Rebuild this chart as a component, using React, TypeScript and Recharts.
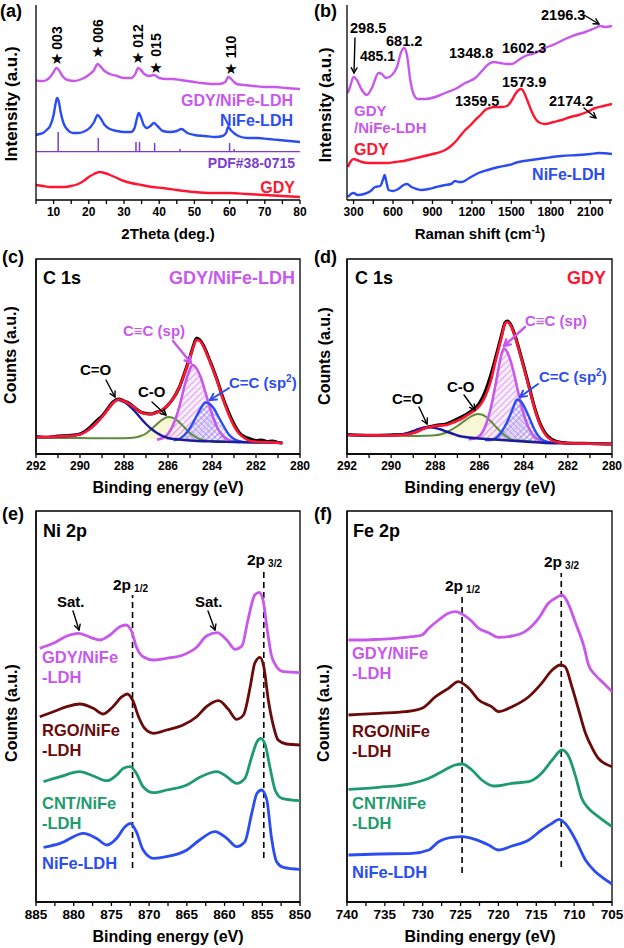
import React from "react";
import { ComposedChart, Line, Area, XAxis, YAxis, ReferenceLine, ReferenceArea } from "recharts";

const FONT = '"Liberation Sans", Arial, Helvetica, sans-serif';
const MAG = "#c858ec";
const BLUE = "#2b4cf0";
const RED = "#ff1530";
const DRED = "#6b0a0a";
const GREEN = "#1e9b6e";
const PURPLE = "#7b3ccf";
const NAVY = "#1b1b9e";
const OLIVE = "#5c8c3c";

// ---- (a) XRD, [2theta, height] ----
const xrdGdyNife = [[5,120],[6,119],[7,119],[8,120],[9,123],[10,128],[10.8,132],[11.5,130],[12.5,124],[14,120],[16,119],[18,121],[20,125],[21.5,130],[22.5,136],[23.2,134],[24.5,129],[26,126],[28,124],[30,122],[32,122],[33.2,126],[34,132],[34.8,130],[35.8,126],[37,124],[38.5,125],[40,122],[42,121],[44,121],[46,120],[48,119],[50,118],[52,117],[55,116],[57,116],[58.8,118],[59.6,123],[60.2,122],[61,119],[62,116],[64,115],[67,114],[70,113],[73,113],[76,112],[80,111]];
const xrdNife = [[5,65],[6,66],[7,67],[8,70],[9,74],[10,85],[10.6,97],[11,102],[11.5,98],[12,88],[12.8,77],[14,70],[15.5,67],[17,67],[19,69],[20.5,73],[21.5,78],[22.5,85],[23.3,82],[24.5,75],[26,71],[28,69],[30,68],[32,68],[33,72],[33.7,82],[34.2,87],[34.8,83],[35.6,75],[36.5,72],[37.5,74],[38.5,77],[39.5,74],[41,69],[43,68],[45,69],[46.3,71],[48,67],[50,65],[53,64],[56,63],[58,64],[59,67],[59.6,73],[60.3,70],[61.2,67],[62.5,64],[65,62],[68,62],[71,61],[74,60],[77,59],[80,58]];
const xrdGdy = [[5,15],[7,14],[9,13],[11,13],[13,13],[15,14],[17,16],[18.5,19],[20,23],[21.5,26],[23,28],[24.5,27],[26,25],[28,22],[30,19],[32,17],[35,15],[38,13],[41,12],[45,10],[50,8],[55,7],[60,7],[65,6],[70,5],[75,4],[80,3]];
const pdfBase = 48.3;
const pdfPeaks = [11.3, 22.7, 33.4, 34.4, 38.7, 45.9, 60.0, 61.3];
const pdfHeights = [68, 62, 58, 58, 57, 51, 57, 51];

// ---- (b) Raman, [shift, height] ----
const ramGdyNife = [[257,107],[275,114],[300,123],[325,120],[363,110],[401,105],[439,112],[490,127],[515,126],[546,122],[592,125],[630,133],[662,148],[685,152],[706,145],[731,120],[756,106],[789,101],[845,101],[921,103],[997,107],[1073,111],[1149,117],[1225,122],[1276,129],[1327,136],[1365,138],[1415,137],[1466,136],[1504,136],[1555,140],[1605,144],[1681,147],[1757,152],[1833,156],[1909,161],[1985,165],[2062,168],[2138,172],[2176,174],[2214,173],[2265,174]];
const ramGdy = [[257,33],[275,38],[300,41],[325,40],[363,38],[420,37],[490,37],[560,37],[617,38],[680,39],[744,41],[810,43],[870,45],[935,47],[997,50],[1040,54],[1073,58],[1110,64],[1149,70],[1190,75],[1225,80],[1265,85],[1301,90],[1335,92],[1365,93],[1400,93],[1428,93],[1466,94],[1504,100],[1530,106],[1555,110],[1575,111],[1595,108],[1620,100],[1656,88],[1690,80],[1720,77],[1757,76],[1820,78],[1884,80],[1950,83],[2011,85],[2075,88],[2138,92],[2200,94],[2265,96]];
const ramNife = [[257,3],[280,6],[300,7],[330,5],[380,6],[430,9],[465,13],[503,14],[525,21],[536,25],[548,19],[566,10],[600,9],[640,11],[680,15],[706,16],[740,13],[780,11],[819,10],[870,11],[930,13],[997,15],[1040,16],[1073,19],[1100,18],[1124,18],[1180,22],[1250,27],[1320,30],[1403,33],[1480,35],[1555,38],[1650,40],[1757,42],[1880,44],[2011,45],[2100,46],[2163,47],[2265,46]];

// ---- (c) C 1s GDY/NiFe-LDH, [BE, height] and [BE, low, high] ----
const c1Raw = [[292,17.5],[291.5,16.5],[291,18],[290.5,18.5],[290,20],[289.75,23],[289.5,27.5],[289.25,33],[289,38],[288.75,45],[288.5,52],[288.25,55],[288,53],[287.75,50.5],[287.5,46],[287.25,42],[287,40.5],[286.75,40],[286.5,42],[286.25,44],[286,49],[285.75,56],[285.5,66],[285.25,81],[285,97],[284.85,108],[284.7,116],[284.55,114],[284.4,109],[284.2,99],[284,88],[283.75,73],[283.5,56],[283.25,42],[283,30],[282.75,21],[282.5,17],[282.25,15],[282,13.5],[281.75,14],[281.5,12.5],[281.25,13],[281,11.5],[280.8,11]];
const c1Fit = [[292,17],[291.5,17],[291,17.5],[290.5,18],[290,19.5],[289.75,22],[289.5,26],[289.25,31],[289,37],[288.75,44],[288.5,51],[288.25,54.5],[288,53],[287.75,50],[287.5,46],[287.25,42],[287,40],[286.75,40],[286.5,41.5],[286.25,44.5],[286,49],[285.75,56],[285.5,66],[285.25,80],[285,96],[284.85,107],[284.7,114],[284.55,113],[284.4,108],[284.2,98],[284,87],[283.75,72],[283.5,55],[283.25,40],[283,28],[282.75,20],[282.5,15.5],[282.25,13],[282,12.3],[281.5,11.8],[281,11.3],[280.8,10.7]];
const c1CO2 = [[292,17],[291,17.3],[290.5,18],[290,20],[289.75,22.5],[289.5,26],[289.25,31],[289,37],[288.75,44],[288.5,51],[288.4,53],[288.25,54],[288,52],[287.75,48],[287.5,42.5],[287.25,36],[287,30],[286.75,25],[286.5,21],[286.25,18],[286,16],[285.5,14.5],[285,13.5],[284,12.5],[283,12],[282,11.5],[281,11.2],[280.8,11]];
const c1CO = [[292,16,16],[291,16,16],[290,15.9,15.9],[289,15.8,15.8],[288,15.8,15.8],[287.5,15.7,16.5],[287.25,15.6,18],[287,15.5,20.5],[286.75,15.3,25],[286.5,15.1,30],[286.25,14.9,34.5],[286,14.7,37],[285.75,14.5,36],[285.5,14.3,32],[285.25,14.1,26.5],[285,13.9,21],[284.75,13.7,17],[284.5,13.5,14.5],[284.25,13.2,13.2],[284,13,13],[283,12.2,12.2],[282,11.6,11.6],[281,11.2,11.2]];
const c1Sp = [[286.5,14.2,14.2],[286.25,14.1,16],[286,14,20],[285.75,13.9,30],[285.5,13.8,46],[285.25,13.7,68],[285,13.5,85],[284.9,13.5,89],[284.75,13.4,87],[284.5,13.2,76],[284.25,13,58],[284,12.8,40],[283.75,12.6,26],[283.5,12.4,18],[283.25,12.2,14],[283,12,12.5],[282.75,11.9,11.9]];
const c1Sp2 = [[285.75,13.8,13.8],[285.5,13.7,15],[285.25,13.6,19],[285,13.5,26],[284.75,13.4,36],[284.5,13.2,46],[284.3,13.1,51.5],[284.1,13,50],[283.9,12.9,45],[283.7,12.7,37],[283.5,12.5,29],[283.25,12.3,20],[283,12.1,15],[282.75,12,12.8],[282.5,11.9,11.9]];

// ---- (d) C 1s GDY ----
const d1Raw = [[292,19.5],[291,18.5],[290,19],[289.5,19.5],[289,21.5],[288.5,26],[288,28.5],[287.5,30],[287,35],[286.5,41],[286.25,45],[286,51],[285.75,62],[285.5,78],[285.25,98],[285,119],[284.85,131],[284.75,133],[284.6,130],[284.4,119],[284.2,104],[284,88],[283.75,67],[283.5,46],[283.25,30],[283,20],[282.75,15],[282.5,12.5],[282,11],[281,10.5],[280,10]];
const d1Fit = [[292,19],[291,18.7],[290,18.5],[289.5,19],[289,21],[288.75,23],[288.5,25.5],[288.25,27],[288,28],[287.75,28.5],[287.5,29],[287.25,31],[287,33.3],[286.75,36],[286.5,39.5],[286.25,43],[286,48],[285.75,57],[285.5,72],[285.25,95],[285,117],[284.85,130],[284.75,132],[284.6,129],[284.4,118],[284.2,103],[284,87],[283.75,66],[283.5,45],[283.25,29],[283,19],[282.75,14],[282.5,12],[282,10.7],[281,10.3],[280,10]];
const d1CO2 = [[292,19],[291,19],[290,19],[289.5,19.5],[289.25,21],[289,23],[288.75,25],[288.5,26.5],[288.25,26.8],[288,26],[287.75,24.5],[287.5,22.5],[287.25,20.5],[287,18.5],[286.5,16.5],[286,15.5],[285,14],[284,12.5],[283,11],[282,10.5],[281,10.2],[280,10]];
const d1CO = [[292,18.8,18.8],[291,18.6,18.6],[290,18.5,18.5],[289,18,18],[288.5,17.8,18.2],[288,17.6,18.8],[287.75,17.4,19.8],[287.5,17.2,21.5],[287.25,17,24.5],[287,16.8,28],[286.75,16.6,32],[286.5,16.4,36],[286.25,16.2,39],[286.1,16,40],[285.9,15.8,39.5],[285.7,15.6,37],[285.5,15.4,33],[285.25,15.1,27],[285,14.8,21.5],[284.75,14.5,17],[284.5,14.1,14.1],[284.25,13.6,13.6],[284,13.2,13.2],[283.5,12.2,12.2],[283,11.5,11.5],[282,10.8,10.8],[281,10.4,10.4],[280,10.1,10.1]];
const d1Sp = [[286.5,14.8,14.8],[286.25,14.7,15.5],[286,14.5,18],[285.75,14.4,27],[285.5,14.2,45],[285.25,14,72],[285.1,13.9,90],[285,13.8,100],[284.9,13.7,105.5],[284.8,13.6,104],[284.65,13.5,97],[284.5,13.4,86],[284.25,13.1,62],[284,12.8,40],[283.75,12.5,25],[283.5,12.2,17],[283.25,12,13.5],[283,11.7,11.9],[282.75,11.5,11.5]];
const d1Sp2 = [[285.75,13.9,13.9],[285.5,13.7,14],[285.25,13.6,16],[285,13.4,22],[284.75,13.2,32],[284.5,13,45],[284.3,12.9,54.5],[284.1,12.7,52],[283.9,12.5,44],[283.7,12.3,34],[283.5,12.1,24],[283.25,11.9,16],[283,11.7,12.5],[282.75,11.5,11.5]];

// ---- (e) Ni 2p ----
const niGdy = [[884.5,253.7],[882.7,258.7],[880.9,266],[879.4,268.7],[877.8,264.7],[876.5,262],[875.2,267],[873.9,275.3],[873.1,277],[872.3,270.3],[871.7,255.3],[870.8,245.3],[869.4,242],[867.7,243.7],[865.5,247],[863.7,254.7],[862.4,266],[861.0,269.3],[859.7,262],[858.6,252.7],[857.7,256],[856.9,282],[856.0,307],[855.4,309.7],[854.9,302],[854.4,275.3],[853.8,247],[853.1,235.3],[852.2,230.3],[850,229.3]];
const niRgo = [[884.5,185.3],[882.7,190.3],[880.9,195.3],[879.2,198],[877.4,193.7],[876.1,188],[874.8,195.3],[873.6,205.3],[872.9,208],[872.2,202],[871.4,185.3],[870.6,173.7],[869.4,168.7],[867.7,172],[865.5,177],[863.7,185.3],[862.4,195.3],[860.8,201.3],[859.5,192.7],[858.4,182.7],[857.5,187],[856.6,215.3],[856.0,238.7],[855.3,244.7],[854.8,235.3],[854.2,202],[853.5,175.3],[852.9,162],[851.8,158],[850,157]];
const niCnt = [[884.0,120.3],[881.8,125.3],[879.2,130.3],[877.4,126],[875.6,121.3],[874.3,127],[873.4,133.7],[872.5,135.3],[871.7,128.7],[870.8,115.3],[869.4,109.3],[867.7,112],[865.0,117],[863.3,124.7],[861.0,130.3],[859.7,125.3],[858.4,118.7],[857.3,123.7],[856.4,145.3],[855.7,160.3],[855.2,163.7],[854.6,157],[854.0,135.3],[853.3,112],[852.4,103.7],[850,101.3]];
const niLdh = [[884.0,54.7],[881.8,58.7],[878.7,68.7],[877.0,63.7],[875.6,57],[874.3,63.7],[873.2,75.3],[872.5,78.7],[871.7,70.3],[870.8,52],[869.4,43.7],[867.7,45.3],[865.0,52],[863.3,62],[861.3,70.3],[859.7,63.7],[858.4,55.3],[857.3,60.3],[856.4,88.7],[855.7,108.7],[855.1,112],[854.4,102],[853.8,65.3],[853.1,40.3],[852.2,34.7],[850,32.7]];
const niMarks = [872.2, 854.8];
const niMarkSpan = [[34, 307], [44, 334]];

// ---- (f) Fe 2p ----
const feGdy = [[739.8,262],[738.0,262],[735.8,262.7],[733.6,263.7],[731.4,265.3],[730.1,267],[729.2,273.7],[727.9,282],[726.6,288.7],[725.7,290.3],[724.8,288],[723.7,282],[722.6,273.7],[721.3,269.3],[720.0,264.7],[718.2,266],[716.5,270.3],[714.7,283.7],[713.4,298.7],[712.3,304.7],[711.6,307],[710.9,300.3],[709.8,278.7],[708.7,255.3],[708.1,237],[707.2,227],[706.1,218.7],[705,210.3]];
const feRgo = [[739.8,187],[735.8,188.7],[732.3,190.3],[730.1,193.7],[728.3,205.3],[726.6,213.7],[725.3,220.3],[723.9,213.7],[722.6,202],[720.9,195.3],[720.0,190.3],[718.2,195.3],[716.0,205.3],[714.3,218.7],[712.9,232],[711.8,237],[711.2,235.3],[710.3,215.3],[709.4,192],[708.5,168.7],[707.6,153.7],[706.8,143.7],[705,135.3]];
const feCnt = [[739.8,112.7],[735.8,114.7],[731.4,118.7],[729.2,123.7],[727.5,130.3],[725.7,137],[724.8,138],[723.5,132],[722.2,122],[720.6,116],[718.2,118.7],[716.0,120.3],[714.3,128.7],[712.9,142],[711.6,152],[710.7,145.3],[709.8,125.3],[709.0,103.7],[708.1,93.7],[706.8,85.3],[705,75.3]];
const feLdh = [[739.8,47],[735.8,48],[731.4,48.7],[729.2,52],[727.9,60.3],[726.1,64.7],[724.8,65.3],[723.1,62.7],[721.3,57],[720.0,52],[718.2,56],[716.0,62],[714.3,72],[712.9,78.7],[712.0,82.7],[711.2,78.7],[709.8,62],[708.5,42],[707.2,30.3],[706.1,23.7],[705,18]];
const feMarks = [724.8, 711.7];
const feMarkSpan = [[29, 305], [35, 329]];

const pts = (a: number[][]) => a.map(([x, h]) => ({ x, h }));
const top = (a: number[][]) => a.map(([x, , hi]) => ({ x, h: hi }));
const band = (a: number[][]) => a.map(([x, lo, hi]) => ({ x, r: [lo, hi] }));

const tickFn = (size: number, isMajor: (v: number) => boolean) => (p: any) => (
  <text x={p.x} y={p.y} dy={size * 0.85} textAnchor="middle" fontFamily={FONT} fontWeight="bold" fontSize={size} fill="#000">
    {isMajor(p.payload.value) ? p.payload.value : ""}
  </text>
);

const range = (a: number, b: number, s: number) => {
  const out: number[] = [];
  for (let v = a; v <= b + 1e-9; v += s) out.push(Math.round(v * 100) / 100);
  return out;
};

function Panel(props: any) {
  const { left, top: t, height, mt, mb, yw, dom, rev, ticks, major, fs, ymax, frame, children } = props;
  return (
    <div style={{ position: "absolute", left, top: t }}>
      <ComposedChart width={312} height={height} margin={{ top: mt, right: 12, bottom: mb, left: 0 }}>
        <XAxis type="number" dataKey="x" domain={dom} reversed={rev} ticks={ticks} interval={0} allowDataOverflow
          height={20} tickSize={4} tick={tickFn(fs, major)} stroke="#000" strokeWidth={1.3} />
        <YAxis type="number" domain={[0, ymax]} width={yw} tick={false} tickLine={false} stroke="#000" strokeWidth={1.3} allowDataOverflow />
        {frame && <ReferenceArea x1={dom[0]} x2={dom[1]} y1={0} y2={ymax} fill="none" stroke="#000" strokeWidth={1.3} />}
        {children}
      </ComposedChart>
    </div>
  );
}

const line = (data: number[][] | any[], color: string, w = 2.2, key?: string, raw = false) => (
  <Line key={key} data={raw ? data : pts(data as number[][])} dataKey="h" type="monotone" stroke={color} strokeWidth={w}
    dot={false} isAnimationActive={false} />
);

function Arrow({ x1, y1, x2, y2, color = "#000", w = 1.4, head = 6 }: any) {
  const a = Math.atan2(y2 - y1, x2 - x1);
  const l = (d: number) => `${x2 - head * Math.cos(a + d)},${y2 - head * Math.sin(a + d)}`;
  return (
    <g stroke={color} strokeWidth={w} fill="none" strokeLinecap="round" strokeLinejoin="round">
      <line x1={x1} y1={y1} x2={x2} y2={y2} />
      <polyline points={`${l(0.5)} ${x2},${y2} ${l(-0.5)}`} />
    </g>
  );
}

function T({ x, y, s = 16, c = "#000", a = "start", rot, children }: any) {
  return (
    <text x={rot ? 0 : x} y={rot ? 0 : y} transform={rot ? `translate(${x},${y}) rotate(-90)` : undefined}
      dominantBaseline={rot ? "central" : undefined} fontFamily={FONT} fontWeight="bold" fontSize={s} fill={c} textAnchor={a}>
      {children}
    </text>
  );
}

function xpsPanel(data: number[][][], marks: number[], spans: number[][], dom: number[], left: number) {
  const colors = [MAG, DRED, GREEN, BLUE];
  return (
    <Panel left={left} top={500} height={448} mt={11} mb={26} yw={left ? 35 : 36} dom={dom} rev
      ticks={range(dom[0], dom[1], 2.5)} major={(v: number) => v % 5 === 0} fs={13.5} ymax={391} frame>
      {marks.map((m, i) => (
        <ReferenceLine key={"m" + i} segment={[{ x: m, y: spans[i][0] }, { x: m, y: spans[i][1] }]}
          stroke="#000" strokeWidth={1.6} strokeDasharray="6 4" />
      ))}
      {data.map((d, i) => line(d, colors[i], 2.8, "s" + i))}
    </Panel>
  );
}

function c1sPanel(raw: number[][], fit: number[][], co2: number[][], co: number[][], sp: number[][], sp2: number[][], left: number) {
  return (
    <Panel left={left} top={250} height={250} mt={9} mb={26} yw={left ? 35 : 36} dom={[280, 292]} rev
      ticks={range(280, 292, 1)} major={(v: number) => v % 2 === 0} fs={12} ymax={195} frame>
      <Area data={band(co)} dataKey="r" type="monotone" fill="#f8f6d2" fillOpacity={0.95} stroke="none" isAnimationActive={false} />
      <Area data={band(sp)} dataKey="r" type="monotone" fill="url(#hatchSp)" stroke="none" isAnimationActive={false} />
      <Area data={band(sp2)} dataKey="r" type="monotone" fill="url(#hatchSp2)" stroke="none" isAnimationActive={false} />
      {line(raw, "#000", 3.2, "raw")}
      {line(top(co), OLIVE, 2, "co", true)}
      {line(top(sp), MAG, 2.6, "sp", true)}
      {line(top(sp2), BLUE, 2.4, "sp2", true)}
      {line(co2, NAVY, 2.4, "co2")}
      {line(fit, RED, 2.6, "fit")}
    </Panel>
  );
}

export default function App() {
  return (
    <div style={{ position: "absolute", left: 0, top: 0, width: 624, height: 948, background: "#fff", overflow: "hidden" }}>
      <svg width={0} height={0} style={{ position: "absolute" }}>
        <defs>
          <pattern id="hatchSp" width="4.5" height="4.5" patternUnits="userSpaceOnUse" patternTransform="rotate(45)">
            <rect width="4.5" height="4.5" fill="#f6e2fc" />
            <line x1="0" y1="0" x2="0" y2="4.5" stroke={MAG} strokeWidth="2" />
          </pattern>
          <pattern id="hatchSp2" width="4" height="4" patternUnits="userSpaceOnUse" patternTransform="rotate(45)">
            <line x1="0" y1="0" x2="0" y2="4" stroke={BLUE} strokeWidth="1.1" />
            <line x1="0" y1="0" x2="4" y2="0" stroke={BLUE} strokeWidth="1.1" />
          </pattern>
        </defs>
      </svg>

      {/* (a) XRD */}
      <Panel left={0} top={0} height={250} mt={5} mb={30} yw={36} dom={[5, 80]} ticks={range(5, 80, 5)}
        major={(v: number) => v % 10 === 0} fs={12} ymax={195}>
        <ReferenceLine y={pdfBase} stroke={PURPLE} strokeWidth={1.3} />
        {pdfPeaks.map((p, i) => (
          <ReferenceLine key={"p" + i} segment={[{ x: p, y: pdfBase }, { x: p, y: pdfHeights[i] }]} stroke={PURPLE} strokeWidth={1.5} />
        ))}
        {line(xrdGdy, RED, 2.4, "g")}
        {line(xrdNife, BLUE, 2.4, "n")}
        {line(xrdGdyNife, MAG, 2.4, "gn")}
      </Panel>

      {/* (b) Raman */}
      <Panel left={312} top={0} height={250} mt={5} mb={30} yw={35} dom={[250, 2265]} ticks={range(300, 2250, 150)}
        major={(v: number) => v % 300 === 0} fs={12} ymax={195}>
        {line(ramNife, BLUE, 2.4, "n")}
        {line(ramGdy, RED, 2.4, "g")}
        {line(ramGdyNife, MAG, 2.4, "gn")}
      </Panel>

      {c1sPanel(c1Raw, c1Fit, c1CO2, c1CO, c1Sp, c1Sp2, 0)}
      {c1sPanel(d1Raw, d1Fit, d1CO2, d1CO, d1Sp, d1Sp2, 312)}
      {xpsPanel([niGdy, niRgo, niCnt, niLdh], niMarks, niMarkSpan, [850, 885], 0)}
      {xpsPanel([feGdy, feRgo, feCnt, feLdh], feMarks, feMarkSpan, [705, 740], 312)}

      <svg width={624} height={948} style={{ position: "absolute", left: 0, top: 0, pointerEvents: "none" }}>
        {/* panel letters */}
        <T x={0} y={17} s={18}>(a)</T>
        <T x={314} y={17} s={18}>(b)</T>
        <T x={2} y={263} s={18}>(c)</T>
        <T x={314} y={263} s={18}>(d)</T>
        <T x={2} y={520} s={18}>(e)</T>
        <T x={314} y={520} s={18}>(f)</T>

        {/* (a) */}
        <T x={11} y={104} s={17} a="middle" rot>Intensity (a.u.)</T>
        <T x={168} y={239} s={15} a="middle">2Theta (deg.)</T>
        <T x={293} y={106} c={MAG} a="end">GDY/NiFe-LDH</T>
        <T x={293} y={126} c={BLUE} a="end">NiFe-LDH</T>
        <T x={295} y={168} s={14} c={PURPLE} a="end">PDF#38-0715</T>
        <T x={295} y={193} c={RED} a="end">GDY</T>
        {[[57, 59, 38, "003"], [98, 52, 31, "006"], [138, 58, 36, "012"], [156, 68, 45, "015"], [231, 69, 47, "110"]].map(([x, sy, ty, t]: any) => (
          <g key={t}>
            <text x={x} y={sy} dominantBaseline="central" textAnchor="middle" fontSize={15} fill="#000" fontFamily="DejaVu Sans">★</text>
            <T x={x} y={ty} s={14} a="middle" rot>{t}</T>
          </g>
        ))}

        {/* (b) */}
        <T x={325} y={105} s={17} a="middle" rot>Intensity (a.u.)</T>
        <T x={480} y={239} s={15} a="middle">Raman shift (cm<tspan fontSize={10} dy={-6}>-1</tspan><tspan dy={6}>)</tspan></T>
        <T x={350} y={33} s={14.5}>298.5</T>
        <Arrow x1={355} y1={38} x2={354} y2={73} />
        <T x={360} y={61} s={14}>485.1</T>
        <T x={386} y={46} s={14.5}>681.2</T>
        <T x={449} y={58} s={14.5}>1348.8</T>
        <T x={502} y={53} s={14.5}>1602.3</T>
        <T x={541} y={20} s={14.5}>2196.3</T>
        <Arrow x1={584} y1={15} x2={599} y2={24} />
        <T x={455} y={106} s={14.5}>1359.5</T>
        <T x={502} y={87} s={14.5}>1573.9</T>
        <T x={549} y={106} s={14.5}>2174.2</T>
        <Arrow x1={584} y1={108} x2={596} y2={118} />
        <T x={354} y={116} s={15} c={MAG}>GDY</T>
        <T x={354} y={133} s={15} c={MAG}>/NiFe-LDH</T>
        <T x={354} y={155} c={RED}>GDY</T>
        <T x={605} y={180} c={BLUE} a="end">NiFe-LDH</T>

        {/* (c) */}
        <T x={10} y={355} a="middle" rot>Counts (a.u.)</T>
        <T x={168} y={493} a="middle">Binding energy (eV)</T>
        <T x={43} y={284} s={18}>C 1s</T>
        <T x={295} y={284} s={18} c={MAG} a="end">GDY/NiFe-LDH</T>
        <T x={80} y={375} s={15}>C=O</T>
        <Arrow x1={106} y1={380} x2={115} y2={397} />
        <T x={138} y={397} s={15}>C-O</T>
        <Arrow x1={152} y1={402} x2={166} y2={415} />
        <T x={123} y={336} s={15} c={MAG}>C≡C (sp)</T>
        <Arrow x1={173} y1={341} x2={191} y2={363} color={MAG} w={2.4} head={7} />
        <T x={229} y={388} s={15} c={BLUE}>C=C (sp<tspan fontSize={10} dy={-6}>2</tspan><tspan dy={6}>)</tspan></T>
        <Arrow x1={229} y1={388} x2={210} y2={400} color={BLUE} w={2} head={7} />

        {/* (d) */}
        <T x={324} y={356} a="middle" rot>Counts (a.u.)</T>
        <T x={480} y={493} a="middle">Binding energy (eV)</T>
        <T x={355} y={284} s={18}>C 1s</T>
        <T x={606} y={284} s={18} c={RED} a="end">GDY</T>
        <T x={392} y={404} s={15}>C=O</T>
        <Arrow x1={419} y1={407} x2={427} y2={424} />
        <T x={447} y={392} s={15}>C-O</T>
        <Arrow x1={464} y1={395} x2={475} y2={410} />
        <T x={525} y={326} s={15} c={MAG}>C≡C (sp)</T>
        <Arrow x1={525} y1={327} x2={504} y2={346} color={MAG} w={2.4} head={7} />
        <T x={539} y={382} s={15} c={BLUE}>C=C (sp<tspan fontSize={10} dy={-6}>2</tspan><tspan dy={6}>)</tspan></T>
        <Arrow x1={538} y1={384} x2={520} y2={397} color={BLUE} w={2} head={7} />

        {/* (e) */}
        <T x={11} y={713} a="middle" rot>Counts (a.u.)</T>
        <T x={168} y={942} a="middle">Binding energy (eV)</T>
        <T x={43} y={537} s={18}>Ni 2p</T>
        <T x={247} y={565} s={15.5}>2p<tspan fontSize={10} dx={3} dy={2}>3/2</tspan></T>
        <T x={113} y={590} s={15.5}>2p<tspan fontSize={10} dx={3} dy={2}>1/2</tspan></T>
        <T x={57} y={607} s={15}>Sat.</T>
        <Arrow x1={73} y1={611} x2={79} y2={630} />
        <T x={195} y={607} s={15}>Sat.</T>
        <Arrow x1={208} y1={611} x2={215} y2={630} />
        <T x={42} y={663} s={16.5} c={MAG}>GDY/NiFe</T>
        <T x={42} y={683} s={16.5} c={MAG}>-LDH</T>
        <T x={42} y={736} s={16.5} c={DRED}>RGO/NiFe</T>
        <T x={42} y={756} s={16.5} c={DRED}>-LDH</T>
        <T x={42} y={809} s={16.5} c={GREEN}>CNT/NiFe</T>
        <T x={42} y={829} s={16.5} c={GREEN}>-LDH</T>
        <T x={42} y={869} s={16.5} c={BLUE}>NiFe-LDH</T>

        {/* (f) */}
        <T x={323} y={713} a="middle" rot>Counts (a.u.)</T>
        <T x={480} y={942} a="middle">Binding energy (eV)</T>
        <T x={353} y={537} s={18}>Fe 2p</T>
        <T x={544} y={567} s={15.5}>2p<tspan fontSize={10} dx={3} dy={2}>3/2</tspan></T>
        <T x={445} y={591} s={15.5}>2p<tspan fontSize={10} dx={3} dy={2}>1/2</tspan></T>
        <T x={352} y={659} s={16.5} c={MAG}>GDY/NiFe</T>
        <T x={352} y={679} s={16.5} c={MAG}>-LDH</T>
        <T x={352} y={737} s={16.5} c={DRED}>RGO/NiFe</T>
        <T x={352} y={757} s={16.5} c={DRED}>-LDH</T>
        <T x={352} y={809} s={16.5} c={GREEN}>CNT/NiFe</T>
        <T x={352} y={829} s={16.5} c={GREEN}>-LDH</T>
        <T x={352} y={878} s={16.5} c={BLUE}>NiFe-LDH</T>
      </svg>
    </div>
  );
}
